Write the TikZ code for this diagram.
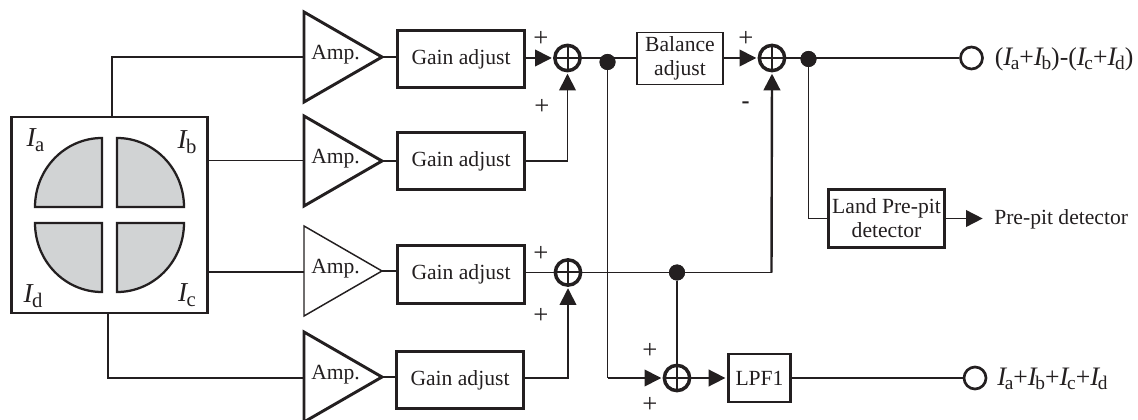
\documentclass[tikz,border=0pt]{standalone}
\usepackage{fontspec}
\setmainfont{Liberation Serif}
\usetikzlibrary{arrows.meta}
\definecolor{ink}{HTML}{231F20}
\definecolor{quad}{HTML}{D1D3D4}
\tikzset{
 x=0.75pt,y=-0.75pt,
 every node/.style={text=ink,font=\fontsize{16.2pt}{18pt}\selectfont,inner sep=0pt},
 wire/.style={draw=ink,line width=1.2pt},
 tipped/.style={wire,-{Triangle[length=12.5pt,width=12.5pt,fill=ink]},shorten >=1pt},
 gainbox/.style={draw=ink,line width=2pt,minimum width=95pt,minimum height=43pt,fill=white},
 thinbox/.style={draw=ink,line width=1.3pt,fill=white,align=center},
 thickbox/.style={draw=ink,line width=2.2pt,fill=white,align=center},
 quadrant/.style={draw=ink,fill=quad,line width=1.7pt,line join=miter},
 sumring/.style={circle,draw=ink,line width=2.6pt,minimum size=19pt,fill=white},
 dotj/.style={circle,fill=ink,minimum size=12pt},
 port/.style={circle,draw=ink,line width=2pt,minimum size=16.5pt,fill=white},
 sign/.style={font=\fontsize{20pt}{20pt}\selectfont},
 bigI/.style={font=\fontsize{20.5pt}{22pt}\selectfont},
 outlabel/.style={anchor=west,font=\fontsize{19.3pt}{20pt}\selectfont},
}
\newcommand{\sumcross}[1]{\draw[draw=ink,line width=1.5pt] (#1.north) -- (#1.south) (#1.west) -- (#1.east);}
\newcommand{\ampl}[3]{% name, center y, line width
  \coordinate (#1-in) at (304,#2);
  \coordinate (#1-out) at (382,#2);
  \draw[draw=ink,line width=#3,fill=white,line join=miter] (304,#2-45) -- (382,#2) -- (304,#2+45) -- cycle;
  \node[anchor=west] (#1-txt) at (311,#2-2) {Amp.};
}
\newcommand{\Bi}[1]{{\itshape I}\kern-0.5pt\raisebox{-3.5pt}{\fontsize{15.5pt}{16pt}\selectfont #1}}
\newcommand{\Ii}[1]{{\fontsize{20pt}{20pt}\selectfont\itshape I}\kern-1pt\raisebox{-3pt}{\fontsize{14.5pt}{15pt}\selectfont #1}}
\begin{document}
\begin{tikzpicture}
\useasboundingbox (0,0) rectangle (1138,420);
% detector
\node[draw=ink,line width=1.9pt,minimum width=147pt,minimum height=147pt,fill=white] (det) at (109.5,215) {};
\draw[quadrant] (102,138) arc[start angle=90,end angle=180,x radius=50.25pt,y radius=51.75pt] -- (102,207) -- cycle;
\draw[quadrant] (117,138) arc[start angle=90,end angle=0,x radius=50.25pt,y radius=51.75pt] -- (117,207) -- cycle;
\draw[quadrant] (102,292) arc[start angle=270,end angle=180,x radius=50.25pt,y radius=51.75pt] -- (102,223) -- cycle;
\draw[quadrant] (117,292) arc[start angle=270,end angle=360,x radius=50.25pt,y radius=51.75pt] -- (117,223) -- cycle;
\node[bigI] (la) at (35.5,140) {\Bi{a}};
\node[bigI] (lb) at (187,142) {\Bi{b}};
\node[bigI] (ld) at (33,296) {\Bi{d}};
\node[bigI] (lc) at (187,295) {\Bi{c}};
% amps
\ampl{a1}{57}{2.2pt}
\ampl{a2}{161}{2.2pt}
\ampl{a3}{271}{1.1pt}
\ampl{a4}{377}{2.2pt}
% gain boxes
\node[gainbox] (g1) at (461,59) {Gain adjust};
\node[gainbox] (g2) at (461,161) {Gain adjust};
\node[gainbox] (g3) at (461,274.5) {Gain adjust};
\node[gainbox] (g4) at (460,380) {Gain adjust};
\node[thinbox,minimum width=64pt,minimum height=39pt] (bal) at (680,58.5) {\raisebox{-0.7pt}{Balance}\\\raisebox{-0.7pt}{adjust}};
\node[thickbox,minimum width=47pt,minimum height=36pt] (lpf) at (759.5,378) {LPF1};
\node[thickbox,minimum width=87pt,minimum height=43pt] (land) at (886.5,218.5) {Land Pre-pit\\detector};
% sums
\node[sumring] (s1) at (567.5,58) {};
\node[sumring] (s2) at (772,58) {};
\node[sumring] (s3) at (568,272.5) {};
\node[sumring] (s4) at (677,378) {};
% junctions
\node[dotj] (j1) at (607.5,62) {};
\node[dotj] (j2) at (808.5,59) {};
\node[dotj] (j3) at (677,272.5) {};
% outputs
\node[port] (o1) at (971.5,58) {};
\node[port] (o2) at (975,378) {};
% connector wires
\draw[wire] (det.north -| 112,0) -- (112,57) -- (a1-in);
\draw[wire] (det.east |- 0,160.5) -- (304,160.5);
\draw[wire] (det.east |- 0,272) -- (304,272);
\draw[wire] (det.south -| 108,0) -- (108,378) -- (304,378);
\draw[wire] (a1-out) -- (g1.west |- a1-out);
\draw[wire] (a2-out) -- (g2.west |- a2-out);
\draw[wire] (a3-out) -- (g3.west |- a3-out);
\draw[wire] (a4-out) -- (g4.west |- a4-out);
\draw[tipped] (g1.east |- s1) -- (s1.west);
\draw[tipped] (g2.east) -- (s1.south |- g2.east) -- (s1.south);
\draw[wire] (g3.east |- s3) -- (s3.west);
\draw[tipped] (g4.east |- 0,378) -- (s3.south |- 0,378) -- (s3.south);
\draw[wire] (s1.east) -- (bal.west |- s1.east);
\draw[wire] (j1) -- (j1 |- s4) coordinate (k);
\draw[tipped] (k) -- (s4.west);
\draw[tipped] (bal.east |- s2) -- (s2.west);
\draw[wire] (s2.east) -- (o1.west);
\draw[wire] (s3.east) -- (771.5,272.5) coordinate (k2);
\draw[tipped,line width=1.8pt] (k2) -- (s2.south);
\draw[wire] (j3) -- (s4.center);
\draw[tipped] (s4.east) -- (lpf.west);
\draw[wire] (lpf.east) -- (o2.west);
\draw[wire] (j2) -- (j2 |- land) -- (land.west);
\coordinate (pp) at (984,218.5);
\draw[tipped] (land.east) -- (pp);
% redraw junctions on top and crosses
\node[dotj] at (j1) {};
\node[dotj] at (j2) {};
\node[dotj] at (j3) {};
\sumcross{s1}\sumcross{s2}\sumcross{s3}\sumcross{s4}
% signs
\node[sign] (p1) at (541,38.5) {+};
\node[sign] (p2) at (542,107) {+};
\node[sign] (p3) at (746,38.5) {+};
\node[sign,font=\fontsize{18pt}{18pt}\selectfont\bfseries] (p4) at (745.5,105) {-};
\node[sign] (p5) at (541,254) {+};
\node[sign] (p6) at (541,316) {+};
\node[sign] (p7) at (650,351) {+};
\node[sign] (p8) at (650,405) {+};
% output labels
\node[outlabel] (t1) at (994.5,59) {(\Ii{a}+\Ii{b})-(\Ii{c}+\Ii{d})};
\node[outlabel] (t2) at (997,379) {\Ii{a}+\Ii{b}+\Ii{c}+\Ii{d}};
\node[anchor=west] (t3) at (994,219) {Pre-pit detector};
\end{tikzpicture}
\end{document}
